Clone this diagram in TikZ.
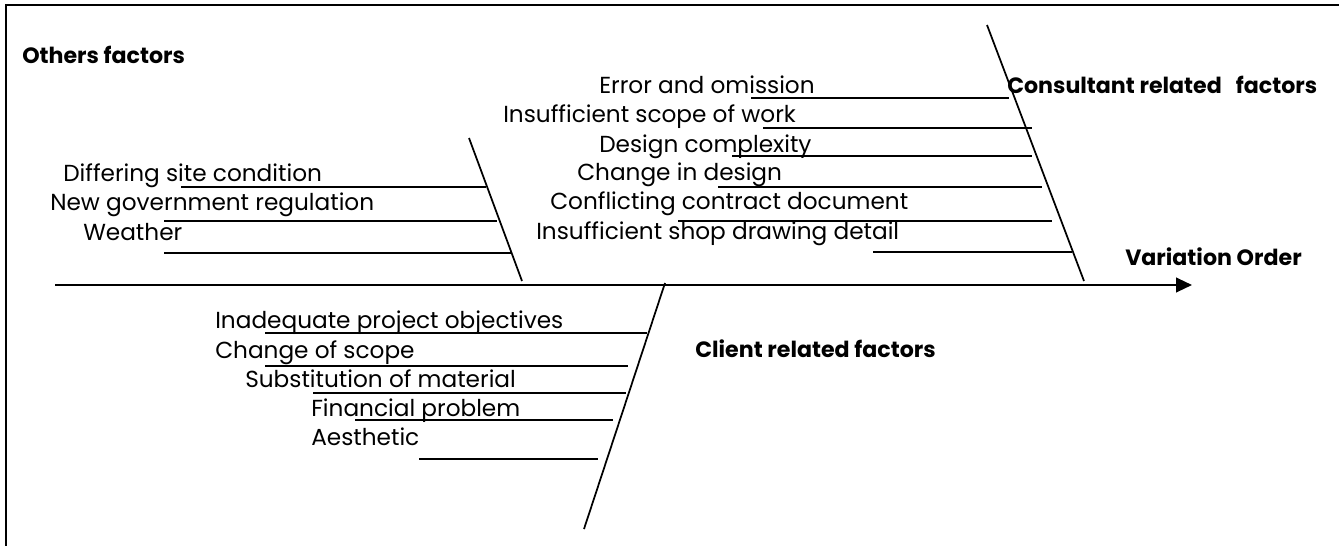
\documentclass[tikz,border=0pt]{standalone}
\usepackage{fontspec}
\setmainfont{Poppins}
\usetikzlibrary{arrows.meta}
\begin{document}
\begin{tikzpicture}[x=0.75pt,y=-0.75pt,
  lbl/.style={anchor=base west,inner sep=0pt,font=\fontsize{17.4}{20}\selectfont},
  head/.style={anchor=base west,inner sep=0pt,font=\fontsize{16.6}{20}\selectfont\bfseries},
  bone/.style={line width=1.3pt},
  rib/.style={line width=1.3pt},
  frame/.style={line width=1.6pt}]
\useasboundingbox (0,0) rectangle (1339,546);
% frame
\coordinate (fbl) at (6,546); \coordinate (ftl) at (6,5); \coordinate (ftr) at (1339,5);
\draw[frame] (fbl) -- (ftl) -- (ftr);
% spine
\coordinate (sp0) at (55,285); \coordinate (sp1) at (1192,285);
\draw[line width=1.6pt,-{Triangle[length=12pt,width=11pt]}] (sp0) -- (sp1);
% bones
\coordinate (ot) at (469,138); \coordinate (ob) at (522,281);
\coordinate (ct) at (987,25);  \coordinate (cb) at (1084,281);
\coordinate (lt) at (665,283); \coordinate (lb) at (584,529);
\draw[bone] (ot) -- (ob);
\draw[bone] (ct) -- (cb);
\draw[bone] (lt) -- (lb);
% other ribs
\coordinate (o1a) at (181,187); \coordinate (o1b) at (486,187);
\coordinate (o2a) at (164,221); \coordinate (o2b) at (497,221);
\coordinate (o3a) at (164,253); \coordinate (o3b) at (511,253);
\draw[rib] (o1a) -- (o1b); \draw[rib] (o2a) -- (o2b); \draw[rib] (o3a) -- (o3b);
% consultant ribs
\coordinate (c1a) at (751,98);  \coordinate (c1b) at (1009,98);
\coordinate (c2a) at (763,128); \coordinate (c2b) at (1032,128);
\coordinate (c3a) at (732,156); \coordinate (c3b) at (1032,156);
\coordinate (c4a) at (718,187); \coordinate (c4b) at (1042,187);
\coordinate (c5a) at (678,221); \coordinate (c5b) at (1052,221);
\coordinate (c6a) at (873,252); \coordinate (c6b) at (1072,252);
\draw[rib] (c1a) -- (c1b); \draw[rib] (c2a) -- (c2b); \draw[rib] (c3a) -- (c3b);
\draw[rib] (c4a) -- (c4b); \draw[rib] (c5a) -- (c5b); \draw[rib] (c6a) -- (c6b);
% client ribs
\coordinate (l1a) at (265,333); \coordinate (l1b) at (647,333);
\coordinate (l2a) at (265,366); \coordinate (l2b) at (628,366);
\coordinate (l3a) at (313,393); \coordinate (l3b) at (626,393);
\coordinate (l4a) at (355,420); \coordinate (l4b) at (613,420);
\coordinate (l5a) at (419,459); \coordinate (l5b) at (598,459);
\draw[rib] (l1a) -- (l1b); \draw[rib] (l2a) -- (l2b); \draw[rib] (l3a) -- (l3b);
\draw[rib] (l4a) -- (l4b); \draw[rib] (l5a) -- (l5b);
% headings
\node[head] (hoth) at (22,63) {Others factors};
\node[head] (hcon) at (1007,93) {Consultant related\ \ \ factors};
\node[head] (hvar) at (1125,265) {Variation Order};
\node[head] (hcli) at (695,357) {Client related factors};
% other labels
\node[lbl] (t1) at (63,181) {Differing site condition};
\node[lbl] (t2) at (50,210) {New government regulation};
\node[lbl] (t3) at (83,240) {Weather};
% consultant labels
\node[lbl] (u1) at (599,93) {Error and omission};
\node[lbl] (u2) at (503,122) {Insufficient scope of work};
\node[lbl] (u3) at (599,152) {Design complexity};
\node[lbl] (u4) at (577,180) {Change in design};
\node[lbl] (u5) at (550,209) {Conflicting contract document};
\node[lbl] (u6) at (536,239) {Insufficient shop drawing detail};
% client labels
\node[lbl] (v1) at (215,328) {Inadequate project objectives};
\node[lbl] (v2) at (215,358) {Change of scope};
\node[lbl] (v3) at (245,387) {Substitution of material};
\node[lbl] (v4) at (311,416) {Financial problem};
\node[lbl] (v5) at (311,445) {Aesthetic};
\end{tikzpicture}
\end{document}
